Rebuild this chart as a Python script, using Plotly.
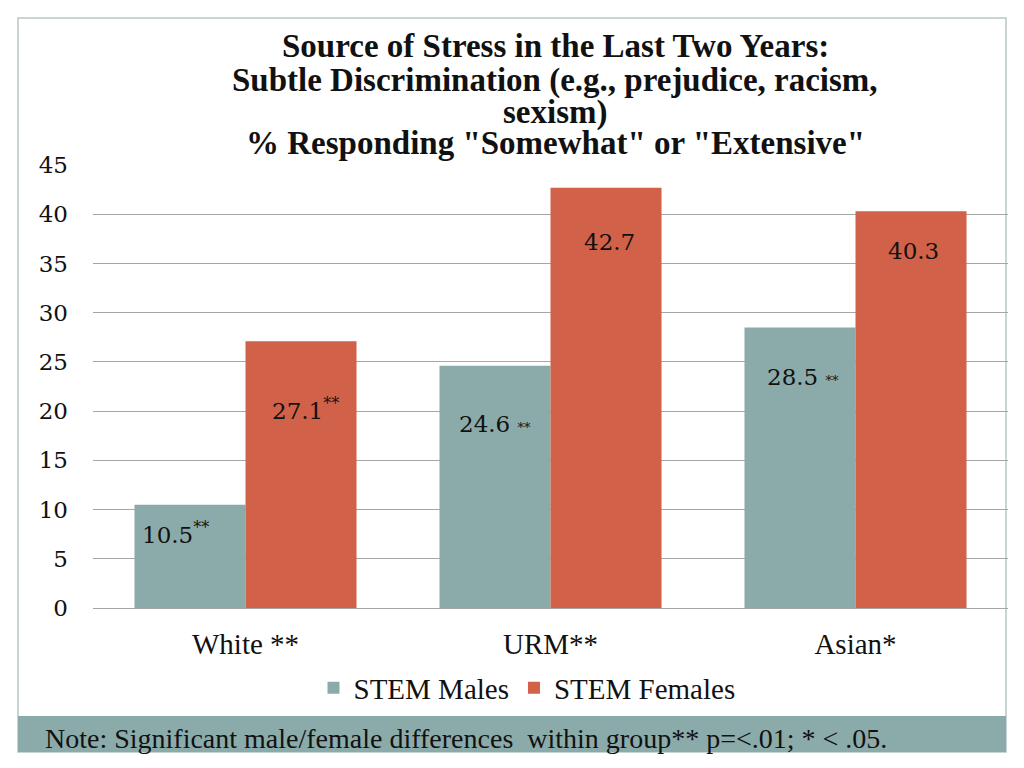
import plotly.graph_objects as go

categories = ["White **", "URM**", "Asian*"]
males = [10.5, 24.6, 28.5]
females = [27.1, 42.7, 40.3]
male_labels = ["10.5<sup>**</sup>", "24.6 <span style='font-size:13px'>**</span>", "28.5 <span style='font-size:13px'>**</span>"]
female_labels = ["27.1<sup>**</sup>", "42.7", "40.3"]
y_ticks = [0, 5, 10, 15, 20, 25, 30, 35, 40, 45]
title_lines = ["Source of Stress in the Last Two Years:",
               "Subtle Discrimination (e.g., prejudice, racism,",
               "sexism)",
               "% Responding \"Somewhat\" or \"Extensive\""]
note_text = "Note: Significant male/female differences  within group** p=<.01; * < .05."

MALE_C = "#8BABAB"
FEMALE_C = "#D2614A"
SERIF = "'Liberation Serif', 'Times New Roman', serif"
NUMF = "'DejaVu Serif', serif"

# page has an 8px body margin; figure coords = screen coords - 8
OFF = 8
W, H = 1024 - OFF, 768 - OFF
PL, PR, PT, PB = 93 - OFF, 1008 - OFF, 165 - OFF, 608 - OFF
def px_x(px):
    return (px - OFF - PL) / (PR - PL)
def px_y(py):
    return (PB - (py - OFF)) / (PB - PT)

fig = go.Figure()
fig.add_trace(go.Bar(x=categories, y=males, name="STEM Males", marker_color=MALE_C,
                     marker_line_width=0))
fig.add_trace(go.Bar(x=categories, y=females, name="STEM Females", marker_color=FEMALE_C,
                     marker_line_width=0))

# label offsets (pixels) relative to bar top
male_dx = [-15, 0, 3]
male_dy = [-28, -58, -50]
female_dx = [4, 3, 2]
female_dy = [-68, -54, -40]

lab_font = dict(family=NUMF, size=23, color="#111111")
for i, c in enumerate(categories):
    fig.add_annotation(x=c, y=males[i], text=male_labels[i], showarrow=False,
                       xshift=-55.5 + male_dx[i], yshift=male_dy[i], font=lab_font)
    fig.add_annotation(x=c, y=females[i], text=female_labels[i], showarrow=False,
                       xshift=55.5 + female_dx[i], yshift=female_dy[i], font=lab_font)

# title, one annotation per line for tight line spacing
title_y = [46, 81, 112, 143]
for line, ty in zip(title_lines, title_y):
    fig.add_annotation(xref="paper", yref="paper", x=px_x(555), y=px_y(ty),
                       xanchor="center", yanchor="middle", showarrow=False, text=f"<b>{line}</b>",
                       font=dict(family=SERIF, size=33, color="#111111"))

# outer frame
fig.add_shape(type="rect", xref="paper", yref="paper",
              x0=px_x(18), x1=px_x(1006), y0=px_y(752), y1=px_y(18),
              line=dict(color="#B8C6C6", width=1.5), fillcolor="rgba(0,0,0,0)", layer="below")
# note band
fig.add_shape(type="rect", xref="paper", yref="paper",
              x0=px_x(18), x1=px_x(1006), y0=px_y(752), y1=px_y(716),
              line=dict(width=0), fillcolor=MALE_C, layer="below")
fig.add_annotation(xref="paper", yref="paper", x=px_x(43), y=px_y(738),
                   xanchor="left", yanchor="middle", showarrow=False,
                   text=note_text,
                   font=dict(family=SERIF, size=28, color="#111111"))

fig.update_layout(
    width=W, height=H,
    margin=dict(l=PL, r=W - PR, t=PT, b=H - PB),
    paper_bgcolor="white", plot_bgcolor="white",
    barmode="group", bargap=0.272, bargroupgap=0,
    showlegend=True,
    legend=dict(orientation="h", x=px_x(527), xanchor="center", y=px_y(688), yanchor="middle",
                font=dict(family=SERIF, size=29, color="#111111"),
                itemwidth=30, traceorder="normal", bgcolor="rgba(0,0,0,0)"),
    xaxis=dict(showgrid=False, showline=False, ticks="", ticklabelstandoff=16,
               tickfont=dict(family=SERIF, size=29, color="#111111")),
    yaxis=dict(range=[0, 45], tickvals=y_ticks, showgrid=True, gridcolor="#A6A6A6", gridwidth=1,
               zeroline=True, zerolinecolor="#A6A6A6", zerolinewidth=1, showline=False,
               ticks="", ticklabelstandoff=24,
               tickfont=dict(family=NUMF, size=23, color="#111111")),
)

fig.write_html("out.html")
